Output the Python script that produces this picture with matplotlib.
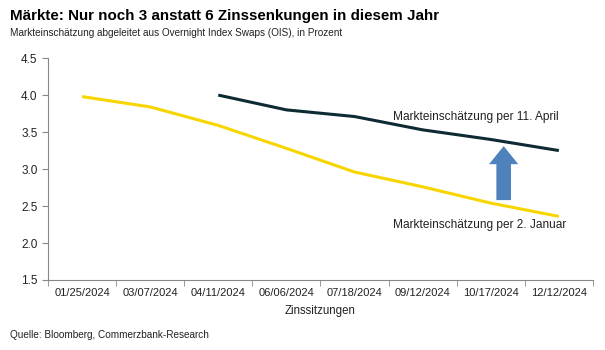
import matplotlib
matplotlib.use("Agg")
import matplotlib.pyplot as plt
import numpy as np

plt.rcParams["font.family"] = ["Liberation Sans", "DejaVu Sans"]

meetings = ["01/25/2024", "03/07/2024", "04/11/2024", "06/06/2024",
            "07/18/2024", "09/12/2024", "10/17/2024", "12/12/2024"]
january = [3.98, 3.84, 3.59, 3.28, 2.96, 2.76, 2.54, 2.36]
april = [np.nan, np.nan, 4.00, 3.80, 3.71, 3.53, 3.40, 3.25]

x = np.arange(len(meetings))

fig = plt.figure(figsize=(6.05, 3.5), dpi=100)
ax = fig.add_axes([0.0793, 0.2, 0.9007, 0.634])

ax.plot(x, january, color="#F7D600", linewidth=2.2, solid_capstyle="butt")
ax.plot(x, april, color="#0E2A33", linewidth=2.2, solid_capstyle="butt")

# Pfeil: Verschiebung der Markterwartung
ax.annotate("", xy=(6.19, 3.31), xytext=(6.19, 2.58),
            arrowprops=dict(arrowstyle="simple,head_width=2.1,head_length=1.3,tail_width=1.05",
                            color="#4F81BD", linewidth=0, shrinkA=0, shrinkB=0))

ax.text(4.57, 3.71, "Markteinschätzung per 11. April", fontsize=8.6,
        va="center", ha="left", color="#222222")
ax.text(4.57, 2.24, "Markteinschätzung per 2. Januar", fontsize=8.6,
        va="center", ha="left", color="#222222")

ax.set_xlim(-0.5, len(meetings) - 0.5)
ax.set_ylim(1.5, 4.5)
ax.set_yticks(np.arange(1.5, 4.51, 0.5))
ax.set_yticklabels([f"{v:.1f}" for v in np.arange(1.5, 4.51, 0.5)])
ax.set_xticks(x)
ax.set_xticklabels(meetings)
ax.set_xticks(np.arange(-0.5, len(meetings), 1.0), minor=True)
ax.tick_params(axis="x", which="major", length=0, pad=6, labelsize=8, colors="#222222")
ax.tick_params(axis="x", which="minor", length=4, color="#888888")
ax.tick_params(axis="y", length=4, color="#888888", labelsize=8.5, labelcolor="#222222")
for side in ["top", "right"]:
    ax.spines[side].set_visible(False)
for side in ["left", "bottom"]:
    ax.spines[side].set_color("#888888")
ax.set_xlabel("Zinssitzungen", fontsize=8.3, color="#222222", labelpad=5)

fig.text(0.017, 0.953, "Märkte: Nur noch 3 anstatt 6 Zinssenkungen in diesem Jahr",
         fontsize=10.9, fontweight="bold", va="center", ha="left")
fig.text(0.017, 0.905, "Markteinschätzung abgeleitet aus Overnight Index Swaps (OIS), in Prozent",
         fontsize=7.2, va="center", ha="left", color="#222222")
fig.text(0.017, 0.043, "Quelle: Bloomberg, Commerzbank-Research",
         fontsize=7.2, va="center", ha="left", color="#222222")

fig.savefig("out.png", dpi=100)
